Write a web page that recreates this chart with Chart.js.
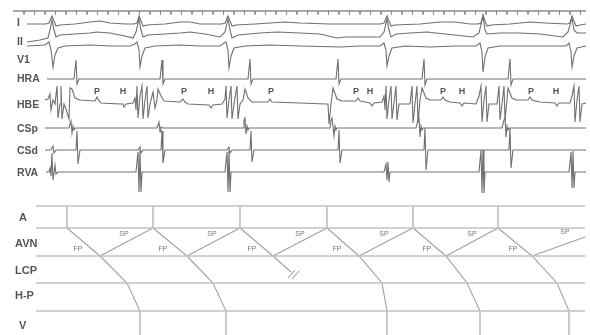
<!DOCTYPE html>
<html><head><meta charset="utf-8">
<script src="https://cdn.jsdelivr.net/npm/chart.js@4.4.1/dist/chart.umd.min.js"></script>
<style>html,body{margin:0;padding:0;background:#fff}#w{width:590px;height:335px;position:relative}</style>
</head><body><div id="w"><canvas id="c"></canvas></div>
<script>
// ---- Data (time units across, vertical display units down) ----
const channelLabels = [["I",23],["II",42],["V1",60],["HRA",79],["HBE",105],["CSp",129],["CSd",151],["RVA",173]];
const ladderLabels = [["A",218],["AVN",244],["LCP",271],["H-P",296],["V",326]];
const hbeMarkers = [["P",97],["H",123],["P",184],["H",211],["P",271],["P",356],["H",370],["P",443],["H",462],["P",531],["H",556]];
const timeTicks = [24,34.5,45,55.5,66,76.5,87,97.5,108,118.5,129,139.5,150,160.5,171,181.5,192,202.5,213,223.5,234,244.5,255,265.5,276,286.5,297,307.5,318,328.5,339,349.5,360,370.5,381,391.5,402,412.5,423,433.5,444,454.5,465,475.5,486,496.5,507,517.5,528,538.5,549,559.5,570,580.5];

const leadI = [[27,24],[46,24],[49,23],[52,16],[54,21],[56,26],[60,25],[75,24],[90,22],[100,21],[110,23],[125,24],[134,24],[137,23],[139,16],[141,21],[143,26],[147,25],[165,24],[180,22],[190,22],[200,24],[222,24],[225,23],[228,16],[230,21],[232,26],[236,25],[255,24],[270,23],[285,22],[300,23],[330,24],[360,24],[380,24],[384,23],[387,16],[389,21],[391,26],[395,25],[420,24],[440,22],[455,22],[470,24],[478,24],[481,23],[483,15],[485,21],[487,26],[491,25],[510,24],[530,22],[545,23],[567,24],[570,23],[572,16],[574,21],[576,26],[580,25],[586,24]];
const leadII = [[27,42],[40,40],[48,38],[50,30],[52,20],[54,30],[56,37],[60,35],[75,34],[90,33],[97,32],[110,33],[125,36],[133,38],[136,32],[139,19],[141,30],[143,37],[148,35],[165,34],[180,33],[190,32],[205,34],[220,37],[225,32],[228,19],[230,30],[232,38],[238,35],[260,33],[277,32],[300,33],[320,34],[337,38],[345,37],[380,37],[384,32],[387,19],[389,30],[391,37],[396,34],[410,33],[427,32],[445,34],[473,37],[479,33],[483,16],[485,30],[487,34],[500,33],[520,33],[540,34],[563,37],[568,32],[572,18],[574,30],[577,33],[586,33]];
const leadV1 = [[27,46],[45,45],[49,42],[51,50],[53,67],[55,55],[58,48],[65,46],[90,45],[110,46],[130,46],[135,44],[137,42],[139,50],[140,67],[142,56],[145,48],[155,46],[180,45],[200,46],[220,46],[224,43],[226,42],[228,50],[229,68],[231,56],[234,48],[245,46],[270,45],[300,46],[340,47],[360,46],[380,46],[384,43],[386,50],[387,66],[389,56],[392,48],[405,46],[430,47],[455,46],[476,46],[480,43],[482,52],[483,72],[485,57],[488,48],[500,46],[530,46],[550,46],[566,46],[569,43],[571,52],[572,67],[574,56],[577,48],[586,46]];
const hra = [[47,79],[74,79],[76,60],[77,84],[79,79],[160,79],[162,60],[163,84],[165,79],[248,79],[250,59],[251,84],[253,79],[336,79],[338,59],[339,84],[341,79],[422,79],[424,59],[425,85],[427,79],[508,79],[510,59],[511,85],[513,79],[586,79]];
const hbe = [[45,100],[48,99],[50,94],[51,110],[53,100],[55,104],[57,86],[58,118],[60,104],[61,86],[62,119],[64,104],[67,112],[69,119],[70,88],[72,89],[75,98],[80,100],[95,101],[97,97],[99,101],[101,103],[120,104],[123,104],[124,107],[126,104],[133,103],[135,98],[136,110],[137,86],[138,118],[140,96],[142,86],[143,119],[145,100],[147,86],[148,118],[150,104],[153,92],[155,108],[157,100],[158,89],[161,96],[164,101],[180,102],[183,99],[185,102],[188,104],[209,105],[211,108],[213,105],[222,104],[225,99],[226,86],[227,118],[229,100],[231,86],[232,119],[234,104],[237,86],[238,119],[240,104],[243,100],[245,89],[248,98],[252,102],[268,102],[270,99],[272,102],[300,103],[326,104],[328,104],[329,124],[331,104],[333,88],[337,99],[342,101],[356,101],[358,98],[360,101],[365,102],[370,103],[372,106],[374,103],[382,102],[384,96],[385,110],[386,86],[387,119],[389,100],[391,86],[392,119],[394,103],[396,86],[397,120],[399,104],[410,104],[412,86],[413,123],[415,104],[417,86],[418,123],[420,100],[422,88],[426,98],[430,100],[441,100],[443,97],[445,100],[450,102],[460,103],[462,106],[464,103],[476,104],[479,96],[481,86],[482,122],[484,100],[486,86],[487,122],[489,104],[497,104],[499,86],[500,120],[502,104],[504,86],[505,120],[507,100],[508,88],[512,98],[516,100],[528,100],[530,97],[532,100],[540,102],[555,103],[557,106],[559,103],[570,103],[572,96],[574,86],[575,122],[577,100],[579,86],[580,122],[582,104],[586,103]];
const csp = [[45,128],[69,128],[70,124],[71,121],[72,133],[73,126],[74,130],[75,128],[157,128],[158,125],[159,122],[160,132],[161,127],[163,128],[243,128],[244,120],[245,118],[246,134],[247,126],[248,130],[249,128],[330,128],[331,120],[332,118],[334,136],[335,126],[336,130],[337,128],[416,128],[418,120],[419,118],[420,137],[421,126],[422,130],[423,128],[502,128],[504,120],[505,118],[506,137],[507,126],[508,130],[509,128],[586,128]];
const csd = [[45,150],[51,150],[53,146],[54,153],[56,150],[76,150],[77,131],[78,164],[80,150],[138,150],[140,147],[141,153],[143,150],[161,150],[162,131],[163,163],[165,150],[227,150],[229,147],[230,153],[232,150],[250,150],[251,131],[252,162],[254,150],[338,150],[339,130],[340,163],[342,150],[424,150],[425,128],[426,170],[428,150],[509,150],[510,128],[511,168],[513,150],[586,150]];
const rva = [[46,172],[49,172],[50,168],[51,176],[52,153],[53,180],[55,165],[56,174],[58,172],[136,172],[138,152],[139,192],[140,150],[141,192],[142,172],[225,172],[227,152],[228,192],[229,150],[230,192],[231,172],[384,172],[386,164],[387,180],[388,162],[389,182],[390,172],[479,172],[481,150],[482,193],[483,150],[484,193],[485,172],[569,172],[571,152],[572,188],[573,151],[574,188],[575,172],[586,172]];

// ladder diagram
const ladderRows = [206,228,256,283,311];
const ladderStart = 36, ladderEnd = 585;
const atrialTimes = [67,153,240,327,413,498];
const fastPaths = [
  [[67,228],[100,256],[127,283],[140,311],[140,335]],
  [[153,228],[187,256],[213,283],[226,311],[226,335]],
  [[240,228],[273,256],[291,272]],
  [[327,228],[359,256],[382,283],[387,311],[387,335]],
  [[413,228],[446,256],[467,283],[480,311],[480,335]],
  [[498,228],[532,256],[557,283],[569,311],[569,335]]
];
const slowPaths = [
  [[100,256],[153,228]],[[187,256],[240,228]],[[273,256],[327,228]],
  [[359,256],[413,228]],[[446,256],[498,228]],[[532,256],[585,237]]
];
const blockMarks = [[[288,278],[295,270]],[[292,279],[299,271]]];
const fpLabels = [[78,249],[163,249],[252,249],[337,249],[427,249],[513,249]];
const spLabels = [[124,234],[212,234],[300,234],[384,234],[472,234],[565,232]];

// ---- build datasets ----
const P = a => a.map(p => ({x:p[0], y:p[1]}));
const traceColor = '#707070';
const ds = [];
function line(data, color, width){ ds.push({data, borderColor:color, borderWidth:width, pointRadius:0, tension:0, fill:false, spanGaps:false}); }
[leadI, leadII, leadV1, hra, hbe, csp, csd, rva].forEach(t => line(P(t), traceColor, 1.1));
// time scale bar
line([{x:13,y:11},{x:586,y:11}], '#8a8a8a', 1.4);
const tk = []; timeTicks.forEach(t => { tk.push({x:t,y:11},{x:t,y:14.5},{x:t,y:null}); });
line(tk, '#8a8a8a', 1);
// ladder
ladderRows.forEach(r => line([{x:ladderStart,y:r},{x:ladderEnd,y:r}], '#c2c2c2', 1.7));
const av = []; atrialTimes.forEach(t => { av.push({x:t,y:206},{x:t,y:228},{x:t,y:null}); });
line(av, '#a0a0a0', 1.1);
fastPaths.forEach(p => line(P(p), '#a0a0a0', 1.1));
slowPaths.forEach(p => line(P(p), '#a0a0a0', 1.1));
blockMarks.forEach(p => line(P(p), '#a0a0a0', 1.1));

const textPlugin = {
  id:'texts',
  afterDatasetsDraw(chart){
    const {ctx, scales:{x, y}} = chart;
    ctx.save();
    ctx.fillStyle = '#555';
    ctx.textBaseline = 'middle';
    ctx.textAlign = 'left';
    ctx.font = 'bold 10.5px "Liberation Sans", Arial, sans-serif';
    channelLabels.forEach(([t,v]) => ctx.fillText(t, x.getPixelForValue(17), y.getPixelForValue(v)));
    ctx.font = 'bold 11px "Liberation Sans", Arial, sans-serif';
    ladderLabels.forEach(([t,v]) => ctx.fillText(t, x.getPixelForValue(t.length>1?15:19), y.getPixelForValue(v)));
    ctx.font = '7px "Liberation Sans", Arial, sans-serif';
    ctx.fillStyle = '#777';
    ctx.textAlign = 'center';
    fpLabels.forEach(([a,b]) => ctx.fillText('FP', x.getPixelForValue(a), y.getPixelForValue(b)));
    spLabels.forEach(([a,b]) => ctx.fillText('SP', x.getPixelForValue(a), y.getPixelForValue(b)));
    ctx.font = 'bold 9px "Liberation Sans", Arial, sans-serif';
    ctx.fillStyle = '#555';
    hbeMarkers.forEach(([t,a]) => ctx.fillText(t, x.getPixelForValue(a), y.getPixelForValue(92)));
    ctx.restore();
  }
};

new Chart(document.getElementById('c'), {
  type:'line',
  data:{datasets:ds},
  options:{
    responsive:true, maintainAspectRatio:false, animation:false,
    layout:{padding:0},
    plugins:{legend:{display:false}, tooltip:{enabled:false}},
    scales:{
      x:{type:'linear', min:0, max:590, display:false},
      y:{type:'linear', min:0, max:335, reverse:true, display:false}
    },
    events:[]
  },
  plugins:[textPlugin]
});
</script></body></html>
